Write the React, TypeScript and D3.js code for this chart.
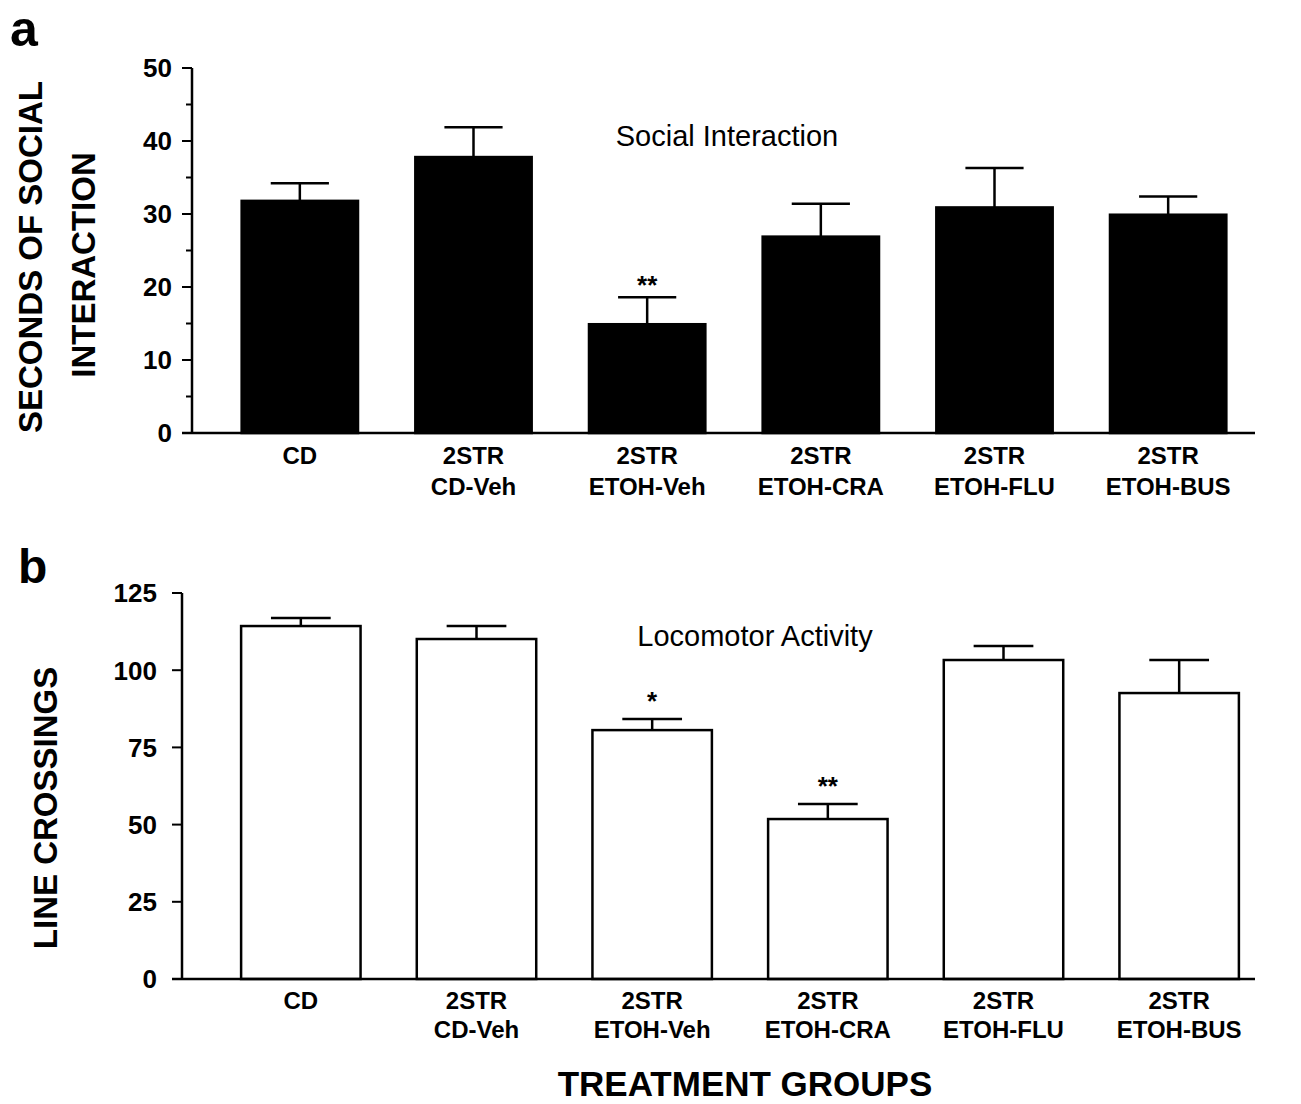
import React from "react";
import * as d3 from "d3";

const labelLine1 = ["CD", "2STR", "2STR", "2STR", "2STR", "2STR"];
const labelLine2 = ["", "CD-Veh", "ETOH-Veh", "ETOH-CRA", "ETOH-FLU", "ETOH-BUS"];
const groups = ["CD", "2STR CD-Veh", "2STR ETOH-Veh", "2STR ETOH-CRA", "2STR ETOH-FLU", "2STR ETOH-BUS"];

const socialMeans = [31.8, 37.8, 14.9, 26.9, 30.9, 29.9];
const socialSEM = [2.4, 4.1, 3.7, 4.5, 5.4, 2.5];
const socialSig = ["", "", "**", "", "", ""];

const locoMeans = [114.3, 110.1, 80.6, 51.8, 103.3, 92.6];
const locoSEM = [2.6, 4.2, 3.6, 4.9, 4.5, 10.7];
const locoSig = ["", "", "*", "**", "", ""];

const socialTicks = [0, 10, 20, 30, 40, 50];
const socialMinorTicks = [5, 15, 25, 35, 45];
const locoTicks = [0, 25, 50, 75, 100, 125];

const FONT = "'Liberation Sans', Arial, Helvetica, sans-serif";

type PanelProps = {
  means: number[];
  sem: number[];
  sig: string[];
  ticks: number[];
  minorTicks: number[];
  yMax: number;
  yTop: number;
  yBottom: number;
  axisX: number;
  xLeft: number;
  xRight: number;
  axisEnd: number;
  padInner: number;
  fill: string;
  title: string;
  titleX: number;
  titleY: number;
  tickLabelGap: number;
  line1Y: number;
  line2Y: number;
  sigGap: number;
};

function Panel(p: PanelProps) {
  const x = d3.scaleBand<string>().domain(groups).range([p.xLeft, p.xRight]).paddingInner(p.padInner).paddingOuter(p.padInner / 2);
  const y = d3.scaleLinear().domain([0, p.yMax]).range([p.yBottom, p.yTop]);
  const bw = x.bandwidth();
  const capHalf = bw * 0.25;
  return (
    <g>
      {groups.map((g, i) => {
        const x0 = x(g)!;
        const cx = x0 + bw / 2;
        const top = y(p.means[i]);
        const cap = y(p.means[i] + p.sem[i]);
        return (
          <g key={g}>
            <line x1={cx} x2={cx} y1={top} y2={cap} stroke="#000" strokeWidth={2.5} />
            <line x1={cx - capHalf} x2={cx + capHalf} y1={cap} y2={cap} stroke="#000" strokeWidth={2.5} />
            <rect x={x0} y={top} width={bw} height={p.yBottom - top} fill={p.fill} stroke="#000" strokeWidth={2.5} />
            {p.sig[i] && (
              <text x={cx} y={cap - p.sigGap} textAnchor="middle" fontFamily={FONT} fontWeight="bold" fontSize={26}>
                {p.sig[i]}
              </text>
            )}
            <text x={cx} y={p.line1Y} textAnchor="middle" fontFamily={FONT} fontWeight="bold" fontSize={24}>
              {labelLine1[i]}
            </text>
            {labelLine2[i] && (
              <text x={cx} y={p.line2Y} textAnchor="middle" fontFamily={FONT} fontWeight="bold" fontSize={24}>
                {labelLine2[i]}
              </text>
            )}
          </g>
        );
      })}
      <line x1={p.axisX} x2={p.axisX} y1={y(p.yMax)} y2={p.yBottom} stroke="#000" strokeWidth={2.5} />
      <line x1={p.axisX - 10} x2={p.axisEnd} y1={p.yBottom} y2={p.yBottom} stroke="#000" strokeWidth={2.5} />
      {p.ticks.map((t) => (
        <g key={"t" + t}>
          <line x1={p.axisX - 10} x2={p.axisX} y1={y(t)} y2={y(t)} stroke="#000" strokeWidth={2} />
          <text x={p.axisX - p.tickLabelGap} y={y(t)} dy="0.36em" textAnchor="end" fontFamily={FONT} fontWeight="bold" fontSize={26}>
            {t}
          </text>
        </g>
      ))}
      {p.minorTicks.map((t) => (
        <line key={"m" + t} x1={p.axisX - 6} x2={p.axisX} y1={y(t)} y2={y(t)} stroke="#000" strokeWidth={2} />
      ))}
      <text x={p.titleX} y={p.titleY} textAnchor="middle" fontFamily={FONT} fontSize={29}>
        {p.title}
      </text>
    </g>
  );
}

export default function App() {
  return (
    <div style={{ position: "absolute", left: 0, top: 0 }}>
      <svg width={1301} height={1104} viewBox="0 0 1301 1104" style={{ display: "block", background: "#fff" }}>
        <rect x={0} y={0} width={1301} height={1104} fill="#fff" />
        <text x={10} y={46} fontFamily={FONT} fontWeight="bold" fontSize={50}>a</text>
        <text x={18} y={583} fontFamily={FONT} fontWeight="bold" fontSize={48}>b</text>

        <text transform="translate(42,257) rotate(-90)" textAnchor="middle" fontFamily={FONT} fontWeight="bold" fontSize={33}>
          SECONDS OF SOCIAL
        </text>
        <text transform="translate(95,265) rotate(-90)" textAnchor="middle" fontFamily={FONT} fontWeight="bold" fontSize={33}>
          INTERACTION
        </text>
        <text transform="translate(57,808) rotate(-90)" textAnchor="middle" fontFamily={FONT} fontWeight="bold" fontSize={33}>
          LINE CROSSINGS
        </text>

        <Panel
          means={socialMeans}
          sem={socialSEM}
          sig={socialSig}
          ticks={socialTicks}
          minorTicks={socialMinorTicks}
          yMax={50}
          yTop={68}
          yBottom={433}
          axisX={192}
          xLeft={213}
          xRight={1255}
          axisEnd={1255}
          padInner={0.33}
          fill="#000"
          title="Social Interaction"
          titleX={727}
          titleY={146}
          tickLabelGap={20}
          line1Y={464}
          line2Y={495}
          sigGap={3}
        />
        <Panel
          means={locoMeans}
          sem={locoSEM}
          sig={locoSig}
          ticks={locoTicks}
          minorTicks={[]}
          yMax={125}
          yTop={593}
          yBottom={979}
          axisX={182}
          xLeft={213}
          xRight={1267}
          axisEnd={1255}
          padInner={0.32}
          fill="#fff"
          title="Locomotor Activity"
          titleX={755}
          titleY={646}
          tickLabelGap={25}
          line1Y={1009}
          line2Y={1038}
          sigGap={9}
        />

        <text x={745} y={1096} textAnchor="middle" fontFamily={FONT} fontWeight="bold" fontSize={35}>
          TREATMENT GROUPS
        </text>
      </svg>
    </div>
  );
}
